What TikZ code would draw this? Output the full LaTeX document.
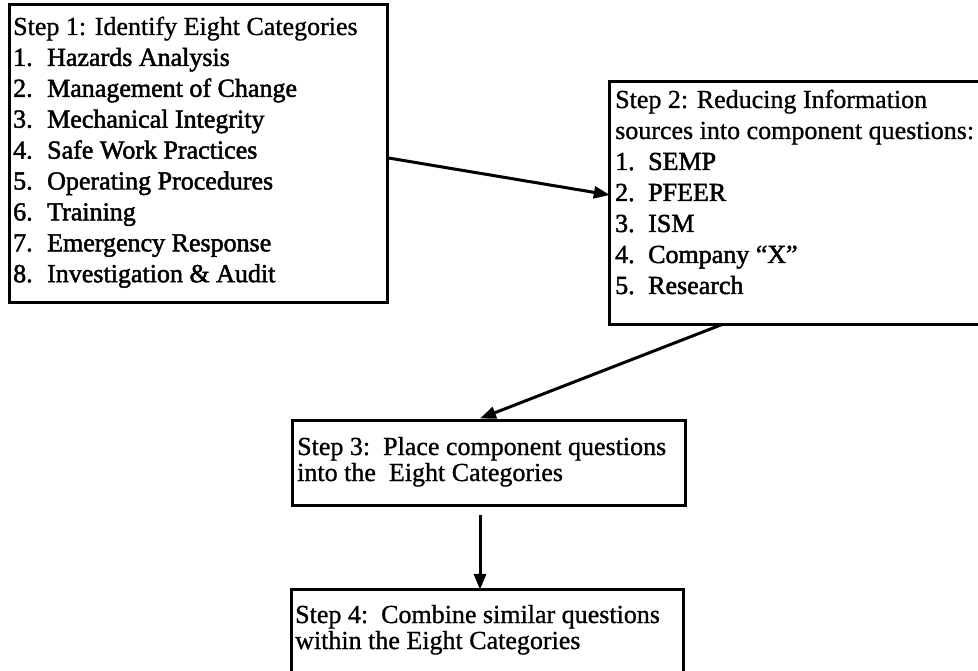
\documentclass[tikz,border=0pt]{standalone}
\usepackage{fontspec}
\setmainfont[BoldFont=Liberation Serif, BoldFeatures={FakeBold=0.9}]{Liberation Serif}
\newfontfamily\listfont[BoldFont=Liberation Serif, BoldFeatures={FakeBold=1.8}]{Liberation Serif}
\usetikzlibrary{arrows.meta,fit}

\begin{document}
\begin{tikzpicture}[x=1pt,y=-1pt,
  frame/.style={draw, line width=3pt, inner sep=0pt},
  openframe/.style={inner sep=0pt},
  edge/.style={line width=3pt},
  txt/.style={anchor=base west, inner sep=0pt, font=\fontsize{26}{30}\selectfont\bfseries},
  entry/.style={txt, font=\fontsize{26}{30}\listfont\bfseries},
  link/.style={line width=3pt, -{Triangle[length=16pt,width=12pt]}}]
\useasboundingbox (0,0) rectangle (978,671);
\fill[white] (0,0) rectangle (978,671);

% Step 1 box
\node[frame, fit={(9,5) (387,303)}] (b1) {};
\node[txt] (b1h) at (13,35) {Step 1: Identify Eight Categories};
\foreach \t [count=\i] in {Hazards Analysis, Management of Change,
    Mechanical Integrity, Safe Work Practices, Operating Procedures,
    Training, Emergency Response, Investigation \& Audit}
  \node[entry] (b1-\i) at (13,35+30.9*\i) {\makebox[34pt][l]{\i.}\t};

% Step 2 box (runs off the right edge)
\node[openframe, fit={(610,82) (978,324)}] (b2) {};
\draw[edge] (b2.north east) -- (b2.north west) -- (b2.south west) -- (b2.south east);
\node[txt] (b2h) at (615,108) {Step 2: Reducing Information};
\node[txt] (b2g) at (615,139) {sources into component questions:};
\foreach \t [count=\i] in {SEMP, PFEER, ISM, Company “X”, Research}
  \node[entry] (b2-\i) at (615,139+31*\i) {\makebox[33pt][l]{\i.}\t};

% Step 3 box
\node[frame, fit={(292,420) (685,505)}] (b3) {};
\node[txt] (b3h) at (297,455) {Step 3:\ \ Place component questions};
\node[txt] (b3g) at (297,481) {into the\ \ Eight Categories};

% Step 4 box (runs off the bottom edge)
\node[openframe, fit={(292,590) (683,671)}] (b4) {};
\draw[edge] (b4.south west) -- (b4.north west) -- (b4.north east) -- (b4.south east);
\node[txt] (b4h) at (295,623) {Step 4:\ \ Combine similar questions};
\node[txt] (b4g) at (295,649) {within the Eight Categories};

% connectors
\draw[link] ([yshift=-4pt]b1.east) -- ([yshift=8pt]b2.west);
\draw[link] ([xshift=113pt]b2.south west) -- ([xshift=-8.5pt]b3.north);
\draw[link] ([xshift=-8.5pt,yshift=-8pt]b3.south) -- ([xshift=-7.5pt]b4.north);
\end{tikzpicture}
\end{document}
